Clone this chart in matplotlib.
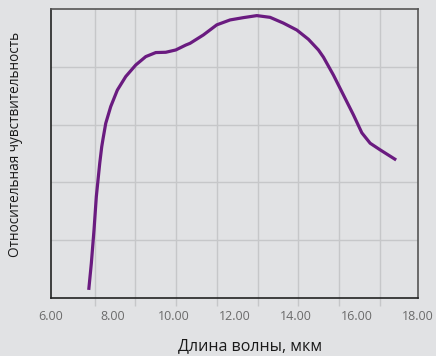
import numpy as np
import matplotlib
matplotlib.use("Agg")
import matplotlib.pyplot as plt
from matplotlib.ticker import FixedLocator, NullFormatter

# длина волны, мкм и относительная чувствительность
wavelength = [7.233, 7.318, 7.406, 7.481, 7.537, 7.593, 7.658, 7.700, 7.789,
              7.952, 8.168, 8.443, 8.770, 9.097, 9.424, 9.751, 10.078, 10.405,
              10.545, 10.980, 11.419, 11.853, 12.288, 12.727, 13.161, 13.597,
              14.035, 14.414, 14.741, 14.905, 15.232, 15.559, 15.886,
              16.160, 16.432, 16.759, 17.282]
sensitivity = [0.028, 0.120, 0.236, 0.351, 0.409, 0.467, 0.524, 0.551, 0.605,
               0.663, 0.720, 0.767, 0.807, 0.836, 0.850, 0.851, 0.859, 0.876,
               0.882, 0.911, 0.946, 0.963, 0.971, 0.978, 0.972, 0.952,
               0.928, 0.896, 0.859, 0.834, 0.772, 0.703, 0.634,
               0.572, 0.536, 0.513, 0.478]
x_ticks = [6, 8, 10, 12, 14, 16, 18]
x_labels = ["6.00", "8.00", "10.00", "12.00", "14.00", "16.00", "18.00"]

plt.rcParams['font.family'] = ['Open Sans', 'DejaVu Sans']
bg = '#e1e2e4'

fig = plt.figure(figsize=(4.36, 3.56), dpi=100, facecolor=bg)
ax = fig.add_axes([0.117, 0.163, 0.842, 0.811], facecolor=bg)

ax.plot(wavelength, sensitivity, color='#6a1b80', lw=2.3,
        solid_capstyle='butt', solid_joinstyle='round')

ax.set_xlim(6, 18)
ax.set_ylim(0, 1)

# сетка не совпадает с подписями оси
grid_x = 7.43 + 1.331 * np.arange(8)
ax.xaxis.set_major_locator(FixedLocator(x_ticks))
ax.set_xticklabels(x_labels)
ax.xaxis.set_minor_locator(FixedLocator(grid_x))
ax.xaxis.set_minor_formatter(NullFormatter())
ax.tick_params(axis='x', which='major', length=0, pad=9, labelsize=9,
               labelcolor='#6b6b6b')
ax.tick_params(axis='x', which='minor', length=6, width=1, color='#c6c7c9',
               direction='out')
ax.set_yticks([0.2, 0.4, 0.6, 0.8])
ax.tick_params(axis='y', length=0, labelleft=False)

ax.grid(True, which='minor', axis='x', color='#c6c7c9', lw=1)
ax.grid(True, which='major', axis='y', color='#c6c7c9', lw=1)
ax.set_axisbelow(True)

for s in ['left', 'bottom']:
    ax.spines[s].set_color('#222222')
    ax.spines[s].set_linewidth(1.2)
for s in ['top', 'right']:
    ax.spines[s].set_color('#555555')
    ax.spines[s].set_linewidth(1.2)

fig.text(0.573, 0.028, "Длина волны, мкм", ha='center', va='center',
         fontsize=11.5, color='#1a1a1a')
fig.text(0.035, 0.593, "Относительная чувствительность", ha='center',
         va='center', rotation=90, fontsize=9.8, color='#1a1a1a')

fig.savefig("out.png", dpi=100, facecolor=bg)
